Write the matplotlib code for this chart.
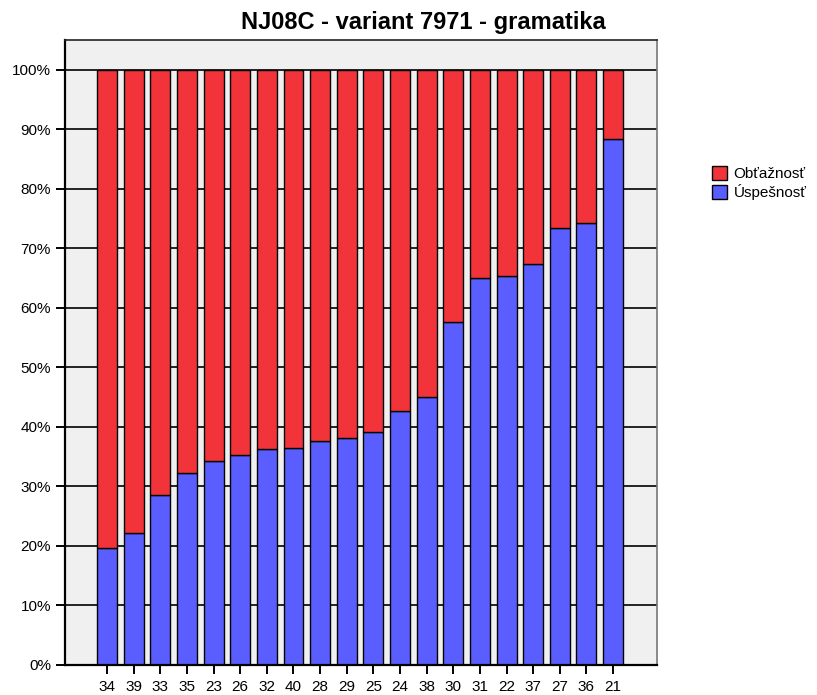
import matplotlib
matplotlib.use("Agg")
import matplotlib.pyplot as plt
import numpy as np
from matplotlib.patches import Patch

plt.rcParams['font.family'] = ['Liberation Sans', 'DejaVu Sans']

categories = ["34", "39", "33", "35", "23", "26", "32", "40", "28", "29",
              "25", "24", "38", "30", "31", "22", "37", "27", "36", "21"]
uspesnost = [19.6, 22.2, 28.5, 32.2, 34.2, 35.2, 36.3, 36.4, 37.6, 38.2,
             39.2, 42.7, 45.0, 57.6, 65.0, 65.4, 67.3, 73.5, 74.3, 88.3]
obtaznost = [100 - u for u in uspesnost]

red = "#F2333A"
blue = "#5B5EFF"

fig = plt.figure(figsize=(8.17, 6.95), dpi=100)
ax = fig.add_axes([65/817, 1 - 665/695, (657-65)/817, (665-40)/695])
ax.set_facecolor("#F0F0F0")

x = np.arange(len(categories))
w = 0.75
ax.set_axisbelow(True)
ax.yaxis.grid(True, color="black", linewidth=1.2)
ax.bar(x, uspesnost, width=w, color=blue, edgecolor="black", linewidth=1.0, zorder=2)
ax.bar(x, obtaznost, width=w, bottom=uspesnost, color=red, edgecolor="black", linewidth=1.0, zorder=2)

ax.set_xlim(-1.58, len(categories) - 1 + 1.65)
ax.set_ylim(0, 105)
ax.set_yticks(np.arange(0, 101, 10))
ax.set_yticklabels([f"{v}%" for v in range(0, 101, 10)], fontsize=11)
ax.set_xticks(x)
ax.set_xticklabels(categories, fontsize=11)
ax.tick_params(axis='both', direction='out', length=6.5, width=1.4, color='black')
ax.tick_params(axis='y', pad=3.5)
ax.tick_params(axis='x', pad=4)

for side in ['left', 'bottom']:
    ax.spines[side].set_linewidth(1.6)
    ax.spines[side].set_color('black')
ax.spines['top'].set_linewidth(1.2)
ax.spines['top'].set_color('#222222')
ax.spines['right'].set_linewidth(1.2)
ax.spines['right'].set_color('#777777')

fig.text(423/817, 1 - 23/695, "NJ08C - variant 7971 - gramatika", ha='center', va='center',
         fontsize=17, fontweight='bold')

handles = [Patch(facecolor=red, edgecolor='black', label="Obťažnosť"),
           Patch(facecolor=blue, edgecolor='black', label="Úspešnosť")]
fig.legend(handles=handles, loc='upper left', bbox_to_anchor=(712/817, 1 - 166/695),
           frameon=False, fontsize=11, handlelength=1.0, handleheight=1.0,
           handletextpad=0.4, labelspacing=0.2, borderaxespad=0, borderpad=0)

fig.savefig("out.png", dpi=100)
